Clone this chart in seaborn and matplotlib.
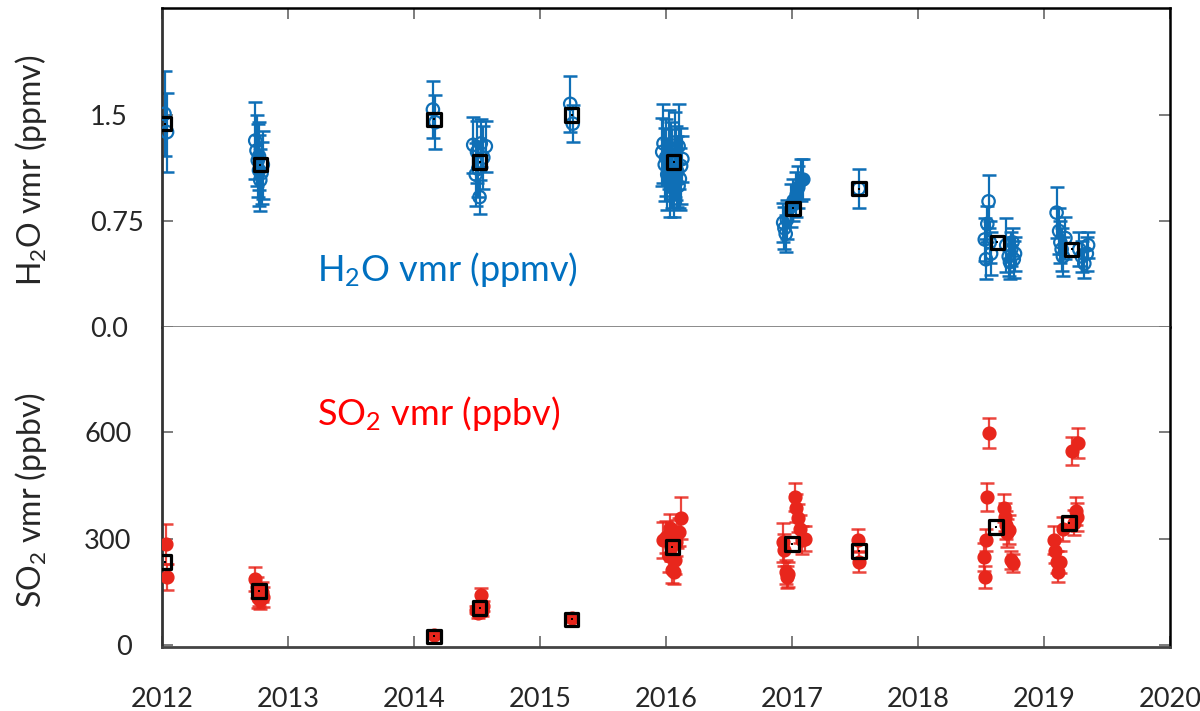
import matplotlib
matplotlib.use("Agg")
import pandas as pd
import matplotlib.pyplot as plt
import seaborn as sns

# ------------------------
# H2O retrievals: year, vmr (ppmv), error, filled marker?
h2o_year = [2012.02, 2012.04,
            2012.74, 2012.75, 2012.76, 2012.77, 2012.78, 2012.79, 2012.80, 2012.77,
            2014.15, 2014.17,
            2014.47, 2014.49, 2014.50, 2014.51, 2014.52, 2014.53, 2014.55, 2014.57,
            2015.24, 2015.26,
            2015.97, 2015.98, 2015.99, 2016.00, 2016.01, 2016.02, 2016.03, 2016.04, 2016.05,
            2016.06, 2016.07, 2016.08, 2016.09, 2016.10, 2016.11, 2016.12, 2016.10, 2016.13,
            2016.93, 2016.94, 2016.95, 2016.96, 2016.99, 2017.01, 2017.03, 2017.05, 2017.07, 2017.09,
            2017.53,
            2018.53, 2018.54, 2018.55, 2018.56, 2018.57, 2018.58,
            2018.70, 2018.72, 2018.73, 2018.74, 2018.75, 2018.76, 2018.77,
            2019.10, 2019.12, 2019.13, 2019.14, 2019.15, 2019.17,
            2019.28, 2019.30, 2019.32, 2019.34, 2019.35]
h2o_vmr = [1.51, 1.38,
           1.32, 1.25, 1.18, 1.11, 1.04, 1.09, 1.15, 1.21,
           1.54, 1.45,
           1.29, 1.08, 1.24, 1.12, 0.92, 1.30, 1.20, 1.28,
           1.58, 1.44,
           1.24, 1.30, 1.15, 1.20, 1.08, 1.26, 1.02, 1.18, 1.12,
           0.98, 1.22, 1.16, 1.10, 1.28, 1.05, 1.14, 1.00, 1.19,
           0.74, 0.70, 0.66, 0.76, 0.86, 0.90, 0.94, 0.99, 1.04, 1.05,
           0.98,
           0.62, 0.48, 0.73, 0.89, 0.60, 0.52,
           0.58, 0.50, 0.46, 0.55, 0.60, 0.48, 0.52,
           0.81, 0.68, 0.60, 0.55, 0.50, 0.63,
           0.55, 0.50, 0.45, 0.52, 0.58]
h2o_err = [0.30, 0.28,
           0.27, 0.25, 0.26, 0.25, 0.22, 0.22, 0.24, 0.24,
           0.20, 0.19,
           0.20, 0.22, 0.22, 0.20, 0.12, 0.17, 0.22, 0.18,
           0.20, 0.13,
           0.24, 0.28, 0.26, 0.27, 0.25, 0.28, 0.24, 0.27, 0.28,
           0.20, 0.30, 0.26, 0.25, 0.30, 0.22, 0.27, 0.16, 0.16,
           0.14, 0.15, 0.13, 0.14, 0.15, 0.15, 0.16, 0.15, 0.15, 0.14,
           0.14,
           0.15, 0.14, 0.13, 0.19, 0.15, 0.15,
           0.19, 0.14, 0.12, 0.12, 0.10, 0.13, 0.12,
           0.18, 0.16, 0.15, 0.15, 0.14, 0.15,
           0.12, 0.11, 0.10, 0.12, 0.09]
h2o_filled = [False] * 44 + [True] * 6 + [False] * 25

# campaign means (black squares)
h2o_mean_year = [2012.02, 2012.78, 2014.16, 2014.52, 2015.25, 2016.06, 2017.01, 2017.53, 2018.63, 2019.22]
h2o_mean = [1.44, 1.15, 1.47, 1.17, 1.50, 1.17, 0.84, 0.98, 0.60, 0.55]

# ------------------------
# SO2 retrievals: year, vmr (ppbv), error
so2_year = [2012.03, 2012.04,
            2012.74, 2012.75, 2012.76, 2012.77, 2012.78, 2012.79, 2012.80,
            2014.16,
            2014.49, 2014.50, 2014.51, 2014.52, 2014.53, 2014.54, 2014.55,
            2015.25,
            2015.98, 2016.00, 2016.02, 2016.04, 2016.05, 2016.06, 2016.07, 2016.09, 2016.10,
            2016.12, 2016.03, 2016.08,
            2016.93, 2016.94, 2016.95, 2016.96, 2016.97, 2017.02, 2017.03, 2017.05, 2017.06,
            2017.08, 2017.10,
            2017.52, 2017.53,
            2018.52, 2018.53, 2018.54, 2018.55, 2018.56, 2018.68, 2018.69, 2018.70, 2018.71,
            2018.72, 2018.74, 2018.75,
            2019.08, 2019.09, 2019.10, 2019.11, 2019.13, 2019.15, 2019.22, 2019.25, 2019.26,
            2019.24, 2019.27]
so2_vmr = [285, 192,
           186, 163, 132, 141, 127, 150, 135,
           28,
           100, 99, 90, 105, 141, 95, 110,
           76,
           296, 304, 250, 277, 211, 206, 239, 313, 318,
           358, 330, 290,
           290, 268, 206, 192, 200, 417, 386, 358, 327,
           296, 300,
           296, 234,
           248, 192, 296, 417, 597, 386, 361, 338, 315,
           325, 239, 231,
           296, 265, 234, 206, 234, 327, 546, 377, 361,
           344, 569]
so2_err = [56, 37,
           34, 30, 28, 30, 25, 28, 28,
           6,
           10, 12, 12, 14, 20, 12, 15,
           10,
           50, 45, 45, 40, 35, 35, 40, 40, 40,
           60, 40, 40,
           55, 45, 35, 30, 35, 40, 40, 40, 40,
           40, 35,
           30, 28,
           40, 30, 30, 40, 42, 40, 40, 40, 40,
           40, 25, 25,
           40, 35, 30, 28, 30, 35, 40, 40, 40,
           35, 42]

so2_mean_year = [2012.02, 2012.77, 2014.16, 2014.52, 2015.25, 2016.05, 2017.00, 2017.53, 2018.62, 2019.20]
so2_mean = [234, 152, 25, 104, 73, 277, 285, 265, 332, 344]

years = list(range(2012, 2021))

BLUE = "#0f6fb6"
RED = "#e8261c"

df_h2o = pd.DataFrame({"year": h2o_year, "vmr": h2o_vmr, "err": h2o_err, "filled": h2o_filled})
df_so2 = pd.DataFrame({"year": so2_year, "vmr": so2_vmr, "err": so2_err})

sns.set_theme(style="ticks")
plt.rcParams["font.family"] = ["Lato", "DejaVu Sans"]
plt.rcParams["mathtext.default"] = "regular"

fig = plt.figure(figsize=(12, 7.11), dpi=100)
ax1 = fig.add_axes([0.135, 0.540, 0.840, 0.449])
ax2 = fig.add_axes([0.135, 0.090, 0.840, 0.450], sharex=ax1)

# ---- top panel: H2O
ax1.errorbar(df_h2o["year"], df_h2o["vmr"], yerr=df_h2o["err"], fmt="none",
             ecolor=BLUE, elinewidth=1.6, capsize=4.8, capthick=1.8, zorder=2)
sns.scatterplot(data=df_h2o[~df_h2o["filled"]], x="year", y="vmr", ax=ax1, marker="o",
                s=80, fc="none", ec=BLUE, linewidth=1.6, zorder=3)
sns.scatterplot(data=df_h2o[df_h2o["filled"]], x="year", y="vmr", ax=ax1, marker="o",
                s=85, color=BLUE, ec=BLUE, linewidth=1, zorder=3)
sns.scatterplot(x=h2o_mean_year, y=h2o_mean, ax=ax1, marker="s", s=95, fc="none",
                ec="black", linewidth=2.3, zorder=5)
sns.scatterplot(x=h2o_mean_year, y=h2o_mean, ax=ax1, marker="s", s=4, color="black",
                linewidth=0, zorder=6)

# ---- bottom panel: SO2
ax2.errorbar(df_so2["year"], df_so2["vmr"], yerr=df_so2["err"], fmt="none",
             ecolor=RED, elinewidth=1.6, capsize=4.8, capthick=1.8, alpha=0.85, zorder=2)
sns.scatterplot(data=df_so2, x="year", y="vmr", ax=ax2, marker="o", s=85,
                color=RED, ec=RED, linewidth=1, zorder=3)
sns.scatterplot(x=so2_mean_year, y=so2_mean, ax=ax2, marker="s", s=95, fc="none",
                ec="black", linewidth=2.3, zorder=5)
sns.scatterplot(x=so2_mean_year, y=so2_mean, ax=ax2, marker="s", s=4, color="black",
                linewidth=0, zorder=6)

# axes, ticks
ax1.set_xlim(2012, 2020)
ax1.set_ylim(0, 2.26)
ax2.set_ylim(-5, 895)
ax1.set_yticks([0, 0.75, 1.5])
ax1.set_yticklabels(["0.0", "0.75", "1.5"])
ax2.set_yticks([0, 300, 600])
ax2.set_xticks(years)
ax2.set_xticklabels([str(y) for y in years])

for ax in (ax1, ax2):
    ax.set_xlabel("")
    ax.tick_params(axis="y", direction="in", left=True, right=True, length=8, width=1.2,
                   color="#666666", labelsize=19.5)
    ax.spines["left"].set_linewidth(2)
    ax.spines["left"].set_color("#333333")
    ax.spines["right"].set_linewidth(1.8)
    ax.spines["right"].set_color("black")

# top panel labels sit left-aligned, bottom ones right-aligned
ax1.tick_params(axis="y", pad=52)
for lab in ax1.get_yticklabels():
    lab.set_horizontalalignment("left")
ax2.tick_params(axis="y", pad=22)

ax1.tick_params(axis="x", direction="in", top=True, bottom=False, labelbottom=False,
                length=8, width=1.2, color="#666666")
ax2.tick_params(axis="x", direction="in", top=False, bottom=True, labelbottom=True,
                length=8, width=1.2, color="#666666", labelsize=19.5, pad=29)

ax1.spines["top"].set_linewidth(1.8)
ax1.spines["top"].set_color("black")
ax1.spines["bottom"].set_linewidth(1.2)
ax1.spines["bottom"].set_color("#777777")
ax2.spines["top"].set_visible(False)
ax2.spines["bottom"].set_linewidth(2)
ax2.spines["bottom"].set_color("#444444")

ax1.set_ylabel(r"H$_2$O vmr (ppmv)", fontsize=23)
ax2.set_ylabel(r"SO$_2$ vmr (ppbv)", fontsize=23)
ax1.yaxis.set_label_coords(-0.112, 0.49)
ax2.yaxis.set_label_coords(-0.112, 0.46)

ax1.text(0.283, 0.18, r"H$_2$O vmr (ppmv)", transform=ax1.transAxes, ha="center",
         va="center", color="#0070C0", fontsize=26)
ax2.text(0.275, 0.73, r"SO$_2$ vmr (ppbv)", transform=ax2.transAxes, ha="center",
         va="center", color="#ff0000", fontsize=26)

fig.savefig("out.png", dpi=100)
